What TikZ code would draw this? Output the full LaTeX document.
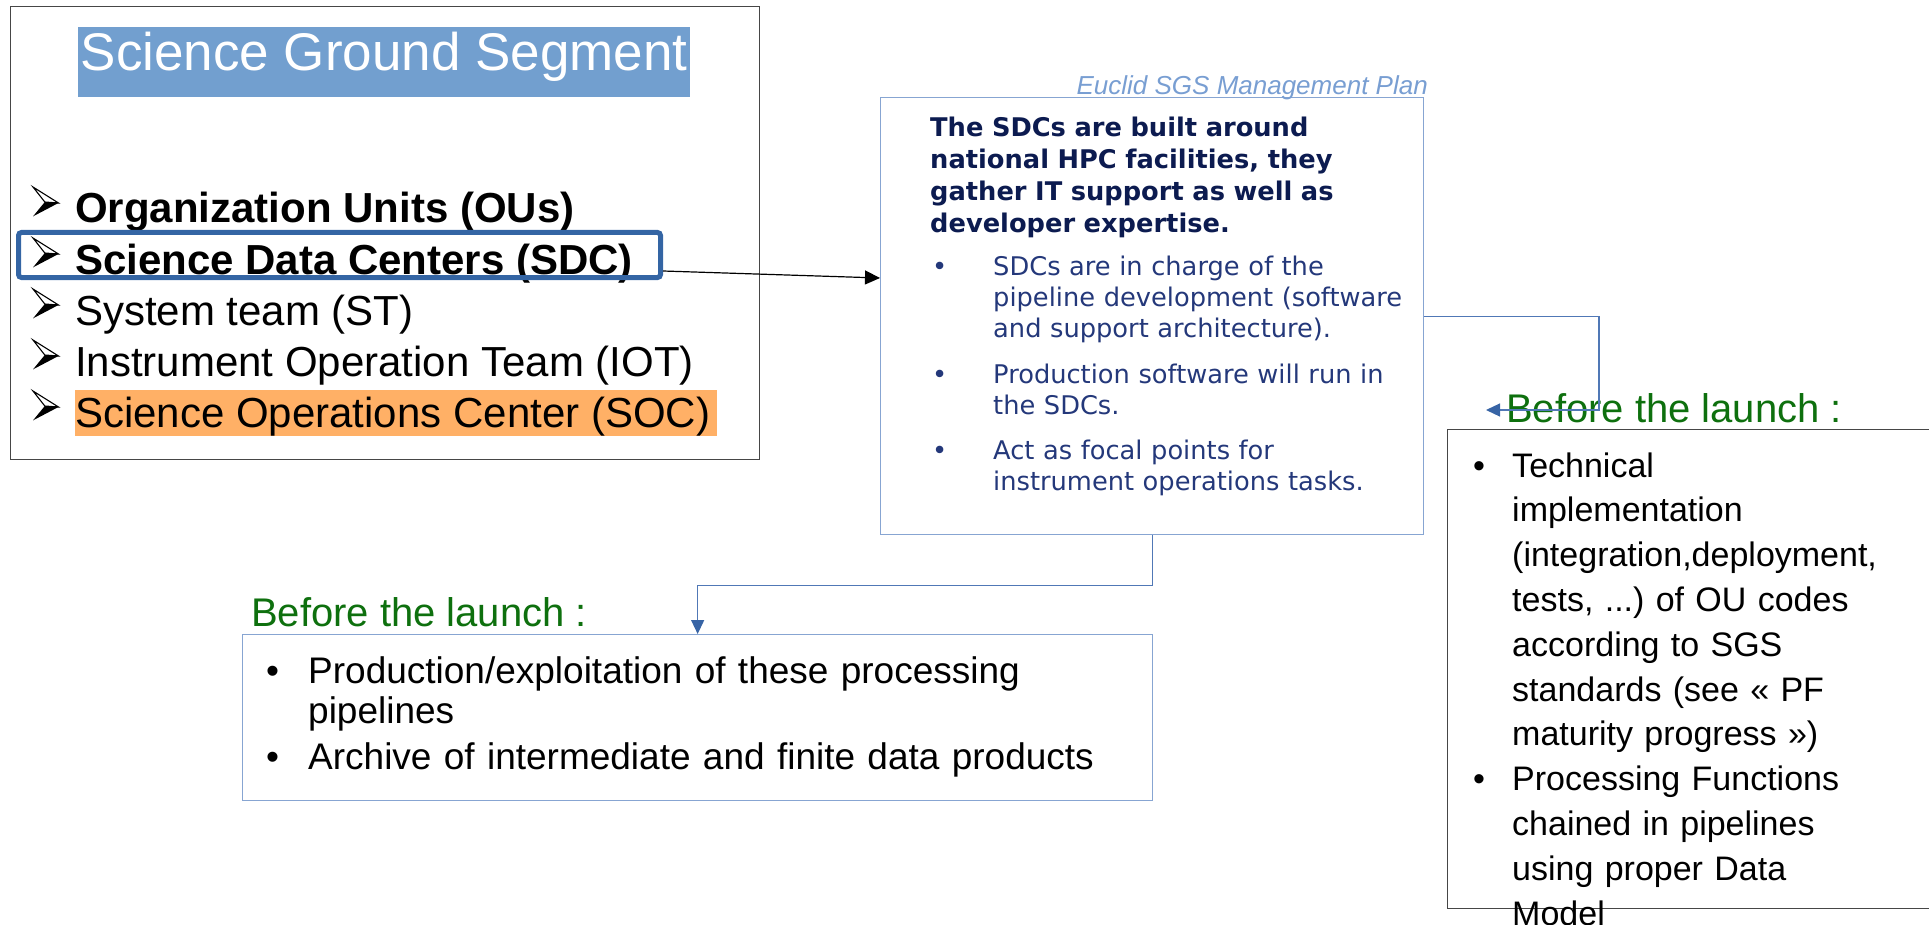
\documentclass[tikz,border=0pt]{standalone}
\usepackage{fontspec}
\setmainfont{Liberation Sans}
\newfontfamily\verdfont{DejaVu Sans}
\usetikzlibrary{arrows.meta,calc}
\frenchspacing

\definecolor{titleblue}{RGB}{114,159,207}
\definecolor{sdcblue}{RGB}{52,101,164}
\definecolor{socorange}{RGB}{255,176,102}
\definecolor{boxblue}{RGB}{135,165,210}
\definecolor{linkblue}{RGB}{80,120,182}
\definecolor{tipblue}{RGB}{55,100,165}
\definecolor{planblue}{RGB}{120,158,210}
\definecolor{navybold}{RGB}{12,27,80}
\definecolor{navytext}{RGB}{36,56,122}
\definecolor{launchgreen}{RGB}{14,112,14}
\definecolor{framegrey}{RGB}{70,70,70}

\tikzset{
  panel/.style={draw=framegrey, line width=1.3, inner sep=0, anchor=north west},
  bluepanel/.style={draw=boxblue, line width=1.3, inner sep=0, anchor=north west},
  itemtext/.style={inner sep=0, anchor=base west, font=\fontsize{42}{51}\selectfont\frenchspacing},
  headtext/.style={inner sep=0, anchor=base west, text=navybold, text width=600, align=left,
    font={\verdfont\bfseries\fontsize{25.7}{32}\selectfont\frenchspacing}},
  midtext/.style={inner sep=0, anchor=base west, text=navytext, text width=600, align=left,
    font={\verdfont\fontsize{25.7}{31}\selectfont\frenchspacing}},
  launch/.style={inner sep=0, anchor=base west, text=launchgreen, font=\fontsize{40}{48}\selectfont},
  lowtext/.style={inner sep=0, anchor=base west, text width=900, align=left,
    font=\fontsize{37}{40}\selectfont\frenchspacing},
  righttext/.style={inner sep=0, anchor=base west, text width=460, align=left,
    font=\fontsize{34}{44.8}\selectfont\frenchspacing},
  link/.style={draw=linkblue, line width=1.3, -{Triangle[length=14, width=13, color=tipblue]}},
  blacklink/.style={draw=black, line width=1.2, -{Triangle[length=15, width=14]}},
  arrowbullet/.pic={
    \filldraw[fill=white, draw=black, line width=1.1, line join=miter] (0,0) -- (25.5,16) -- (11.8,15) -- cycle;
    \fill[black] (11.8,15) -- (25.5,16) -- (0,29.4) -- cycle;
  }
}

\begin{document}
\begin{tikzpicture}[x=1pt, y=-1pt]
\useasboundingbox (0,0) rectangle (1929,925);
\clip (0,0) rectangle (1929,925);

% ---------- Science Ground Segment panel ----------
\node[panel, minimum width=749, minimum height=453] (sgs) at (10,6) {};
\node[fill=titleblue, text=white, inner xsep=0, inner ysep=0, anchor=north west,
      minimum width=612, text height=43, text depth=27,
      font=\fontsize{53}{60}\selectfont] (title) at (78,27) {Science Ground Segment};

\node[itemtext] (ou)  at (75,223) {\bfseries Organization Units (OUs)};
\node[itemtext] (sdc) at (75,274) {\bfseries Science Data Centers (SDC)};
\node[itemtext] (st)  at (75,325) {System team (ST)};
\node[itemtext] (iot) at (75,376) {Instrument Operation Team (IOT)};
\node[itemtext, fill=socorange, text height=37, text depth=9] (soc) at (75,427)
      {Science Operations Center (SOC)\kern7pt\relax};

\foreach \b in {223,274,325,376,427} { \pic at (33,\b-36) {arrowbullet}; }

\node[draw=sdcblue, line width=5, rounded corners=3, inner sep=0, anchor=north west,
      minimum width=642, minimum height=45] (sdcbox) at (16,230) {};

% ---------- SDC description panel ----------
\node[bluepanel, minimum width=543, minimum height=437] (mid) at (880,97) {};
\node[inner sep=0, anchor=base east, text=planblue,
      font=\fontsize{26}{30}\selectfont\itshape] (plan) at (1428,95) {Euclid SGS Management Plan};

\node[headtext] (head) at (930,137)
  {The SDCs are built around\\national HPC facilities, they\\gather IT support as well as\\developer expertise.};

\node[midtext, text width=] (m1) at (932,276) {•};
\node[midtext] (mt1) at (993,276) {SDCs are in charge of the\\pipeline development (software\\and support architecture).};
\node[midtext, text width=] (m2) at (932,383) {•};
\node[midtext] (mt2) at (993,383) {Production software will run in\\the SDCs.};
\node[midtext, text width=] (m3) at (932,459) {•};
\node[midtext] (mt3) at (993,459) {Act as focal points for\\instrument operations tasks.};

\coordinate (sdcin) at ($(mid.north west)+(0,181)$);
\draw[blacklink] ($(sdcbox.south east)+(0,-9)$) -- (sdcin);

% ---------- before launch: production ----------
\node[bluepanel, minimum width=910, minimum height=166] (lbox) at (242,634) {};
\node[launch] (bl1) at (251,626) {Before the launch :};
\node[lowtext, text width=] (l1) at (266,683) {•};
\node[lowtext] (lt1) at (308,683) {Production/exploitation of these processing\\pipelines};
\node[lowtext, text width=] (l2) at (266,769) {•};
\node[lowtext] (lt2) at (308,769) {Archive of intermediate and finite data products};

\draw[link] (mid.south) -- ++(0,50) -| (lbox.north);

% ---------- before launch: implementation ----------
\node[panel, minimum width=540, minimum height=479] (rbox) at (1447,429) {};
\node[launch] (bl2) at (1506,422) {Before the launch :};
\node[righttext, text width=] (r1) at (1473,477) {•};
\node[righttext] (rt1) at (1512,477)
  {Technical\\implementation\\(integration,deployment,\\tests, ...) of OU codes\\according to SGS\\standards (see « PF\\maturity progress »)};
\node[righttext, text width=] (r2) at (1473,790.6) {•};
\node[righttext] (rt2) at (1512,790.6) {Processing Functions\\chained in pipelines\\using proper Data\\Model};

\coordinate (rtip) at (1486,410);
\draw[link] (mid.east) -| ($(rtip)+(113,0)$) -- (rtip);
\end{tikzpicture}
\end{document}
